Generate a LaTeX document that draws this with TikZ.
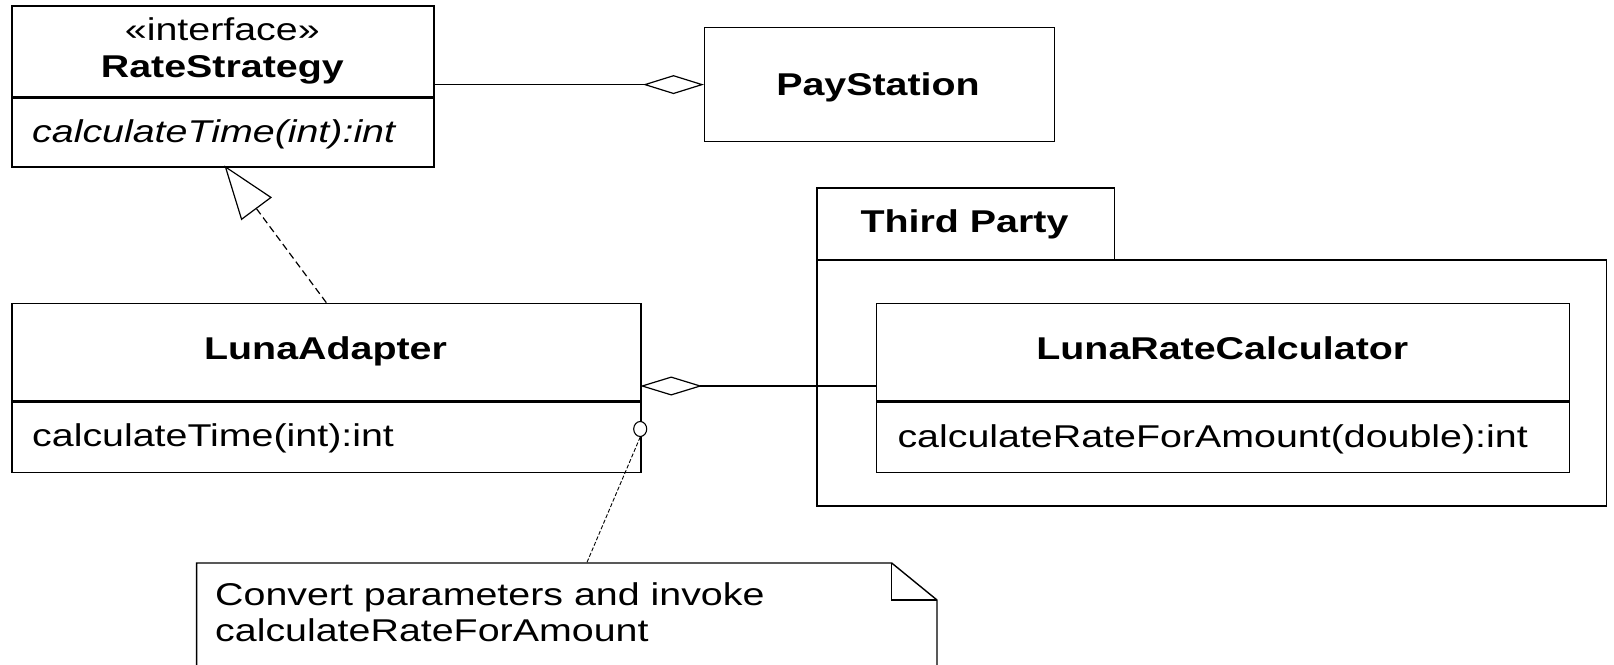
\documentclass[tikz,border=0pt]{standalone}
\usepackage{fontspec}
\setmainfont{Liberation Sans}[FakeStretch=1.25]
\usetikzlibrary{arrows.meta,calc,shapes.geometric}
\newcommand{\fsz}{\fontsize{31.5pt}{37pt}\selectfont}
\begin{document}
\begin{tikzpicture}[x=1pt,y=-1pt,
  box/.style={draw,line width=1.4pt,inner sep=0pt,anchor=north west},
  txt/.style={font=\fsz,inner sep=0pt},
  btxt/.style={font=\fsz\bfseries,inner sep=0pt},
  link/.style={line width=1.2pt},
]
\useasboundingbox[fill=white] (0,0) rectangle (1614,664);
% RateStrategy
\node[box,minimum width=422pt,minimum height=90.6pt] (rsh) at (11.3,5.1) {};
\node[box,minimum width=422pt,minimum height=69pt] (rsb) at (rsh.south west) {};
\node[txt,anchor=base] (rsst) at (222.3,40.7) {«interface»};
\node[btxt,anchor=base] (rsn) at (222.3,77) {RateStrategy};
\node[txt,anchor=base west] (rsm) at (32,142) {\itshape calculateTime(int):int};
% PayStation
\node[box,minimum width=350pt,minimum height=114.2pt] (ps) at (704,26.8) {};
\node[btxt,anchor=base] (psn) at (878,95) {PayStation};
% LunaAdapter
\node[box,minimum width=628.9pt,minimum height=97.8pt] (lah) at (11.3,302.6) {};
\node[box,minimum width=628.9pt,minimum height=70pt] (lab) at (lah.south west) {};
\node[btxt,anchor=base] (lan) at (325.5,359.3) {LunaAdapter};
\node[txt,anchor=base west] (lam) at (32,446.7) {calculateTime(int):int};
% Package
\node[box,minimum width=297.5pt,minimum height=72.1pt] (tab) at (816.2,187.3) {};
\node[btxt,anchor=base] (tabn) at (964.5,232.3) {Third Party};
\node[box,minimum width=789.5pt,minimum height=246pt] (pkg) at (816.2,259.4) {};
% LunaRateCalculator
\node[box,minimum width=692.7pt,minimum height=97.8pt] (lrch) at (876,302.6) {};
\node[box,minimum width=692.7pt,minimum height=70pt] (lrcb) at (lrch.south west) {};
\node[btxt,anchor=base] (lrcn) at (1222.3,359.3) {LunaRateCalculator};
\node[txt,anchor=base west] (lrcm) at (897.3,447) {calculateRateForAmount(double):int};
% association RateStrategy -> PayStation
\draw[link,-{Diamond[open,length=61pt,width=19pt,line width=1.2pt]}] (rsh.east |- ps.west) -- (ps.west);
% realization
\coordinate (rtip) at (224.4,165.5);
\coordinate (rstart) at (326.3,302.6);
\draw[line width=1.2pt,dash pattern=on 7pt off 4pt,-{Triangle[open,length=54pt,width=38pt,line width=1.2pt]}] (rstart) -- (rtip);
% aggregation LunaAdapter <>- LunaRateCalculator
\coordinate (aggL) at (640.2,386);
\coordinate (aggR) at (876,386);
\draw[link,{Diamond[open,length=62pt,width=19pt,line width=1.2pt]}-] (aggL) -- (aggR);
% socket and note
\node[draw,line width=1.1pt,fill=white,ellipse,minimum width=13pt,minimum height=15pt,inner sep=0pt] (sock) at (640.2,429) {};
\node[inner sep=0pt,minimum width=740pt,minimum height=120pt,anchor=north west] (note) at (196.6,563) {};
\coordinate (notetop) at (586.7,563);
\draw[line width=0.9pt,dash pattern=on 4pt off 2pt] (sock.south) -- (notetop);
\draw[line width=1.4pt] (note.south west) -- (note.north west) -- ($(note.north east)+(-45.3,0)$) -- ($(note.north east)+(0,37)$) -- (note.south east);
\draw[line width=1.4pt] ($(note.north east)+(-45.3,0)$) -- ($(note.north east)+(-45.3,37)$) -- ($(note.north east)+(0,37)$);
\node[txt,anchor=base west] (notel1) at (215,605) {Convert parameters and invoke};
\node[txt,anchor=base west] (notel2) at (215,641.7) {calculateRateForAmount};
\end{tikzpicture}
\end{document}
